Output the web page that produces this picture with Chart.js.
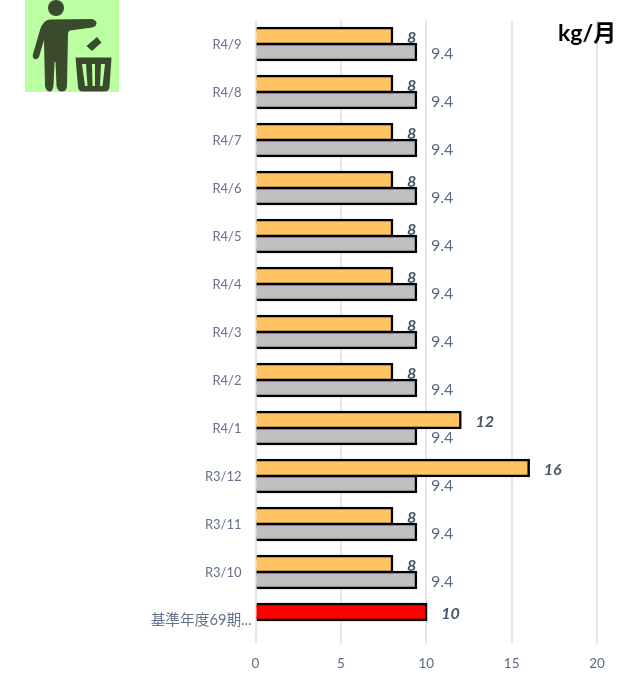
<!DOCTYPE html>
<html><head><meta charset="utf-8">
<script src="https://cdn.jsdelivr.net/npm/chart.js@4"></script>
<style>
html,body{margin:0;padding:0;background:#fff;overflow:hidden}
#wrap{position:relative;width:632px;height:673px}
#icon{position:absolute;left:25px;top:0;width:94px;height:92px}
#unit{position:absolute;left:558px;top:14px;font:bold 23px Lato,"Noto Sans CJK JP",sans-serif;color:#000;white-space:pre}
</style></head><body>
<div id="wrap">
<canvas id="c" width="632" height="673"></canvas>
<svg id="icon" viewBox="25 0 94 92" xmlns="http://www.w3.org/2000/svg">
<rect x="25" y="0" width="94" height="92" fill="#bcffa3"/>
<g fill="#3a4a2d">
<circle cx="56" cy="8" r="8"/>
<path d="M50 19.500 L92 19 Q96.500 20 96.500 23.500 Q96 27 92 27.500 L70 30.500 Q68 31 68 34 L67 86 Q66.500 91.500 62 91.500 Q57.500 91.500 56.500 86 L55.500 62 L54.500 62 L53.500 86 Q52.500 91.500 50 91.500 Q46 91.500 45 86 L44 40 L39 57 Q37 60 34.500 59 Q32 57.500 33 54 L40 30 Q43 20 50 19.500 Z"/>
<path d="M86.500 46 L97 37 L101.500 42.500 L92 51 Z"/>
<path fill-rule="evenodd" d="M75.500 57.500 L111.500 57.500 L109.500 87 Q109 91.500 104 91.500 L83 91.500 Q78.500 91.500 78 87 Z M82 64 L85 86 L87.500 86 L86 64 Z M92 64 L92.500 86 L95 86 L95 64 Z M101 64 L100 86 L102.500 86 L105 64 Z"/>
</g>
</svg>
<div id="unit">kg/月</div>
</div>
<script>
const categories = ["R4/9   ","R4/8   ","R4/7   ","R4/6   ","R4/5   ","R4/4   ","R4/3   ","R4/2   ","R4/1   ","R3/12   ","R3/11   ","R3/10   ","基準年度69期..."];
const actualValues = [8,8,8,8,8,8,8,8,12,16,8,8,10];
const targetValues = [9.4,9.4,9.4,9.4,9.4,9.4,9.4,9.4,9.4,9.4,9.4,9.4,null];
const actualColors = ["#ffc35f","#ffc35f","#ffc35f","#ffc35f","#ffc35f","#ffc35f","#ffc35f","#ffc35f","#ffc35f","#ffc35f","#ffc35f","#ffc35f","#ff0000"];
const xTicks = [0,5,10,15,20];
const FONT = 'Lato,"Noto Sans CJK JP",sans-serif';
const valueLabels = {
  id:'valueLabels',
  afterDatasetsDraw(chart){
    const ctx = chart.ctx;
    ctx.save();
    ctx.textAlign='left';ctx.textBaseline='middle';
    chart.data.datasets.forEach((ds,di)=>{
      chart.getDatasetMeta(di).data.forEach((bar,i)=>{
        const v = ds.data[i];
        if(v===null) return;
        if(di===0){ctx.font='italic bold 16px '+FONT;ctx.fillStyle='#44546a';ctx.fillText(String(v),bar.x+15,bar.y+1.5);}
        else{ctx.font='16px '+FONT;ctx.fillStyle='#5b6b86';ctx.fillText(String(v),bar.x+15,bar.y+2);}
      });
    });
    ctx.restore();
  }
};
new Chart(document.getElementById('c'),{
  type:'bar',
  data:{labels:categories,datasets:[
    {data:actualValues,backgroundColor:actualColors,borderColor:'#000',borderWidth:2.5,inflateAmount:1.25,barPercentage:1,categoryPercentage:0.667},
    {data:targetValues,backgroundColor:'#bfbfbf',borderColor:'#000',borderWidth:2.5,inflateAmount:1.25,barPercentage:1,categoryPercentage:0.667}
  ]},
  options:{
    indexAxis:'y',responsive:false,animation:false,
    layout:{padding:{top:20,right:35,left:0,bottom:0}},
    plugins:{legend:{display:false},tooltip:{enabled:false}},
    scales:{
      y:{type:'category',
         afterFit(s){s.width=255.5;},
         grid:{display:false,drawTicks:false},border:{display:false},
         ticks:{color:'#64738c',font:c=>({family:FONT,size:c.index===categories.length-1?14.7:13}),padding:4,autoSkip:false,labelOffset:0.5}},
      x:{type:'linear',min:0,max:20,
         afterFit(s){s.height=29;},
         afterBuildTicks(s){s.ticks=xTicks.map(v=>({value:v}));},
         grid:{color:'#e4e8ee',lineWidth:2,drawTicks:false},border:{display:false},
         ticks:{color:'#5b6b86',font:{family:FONT,size:13.5},padding:12,maxRotation:0}}
    }
  },
  plugins:[valueLabels]
});
</script>
</body></html>
